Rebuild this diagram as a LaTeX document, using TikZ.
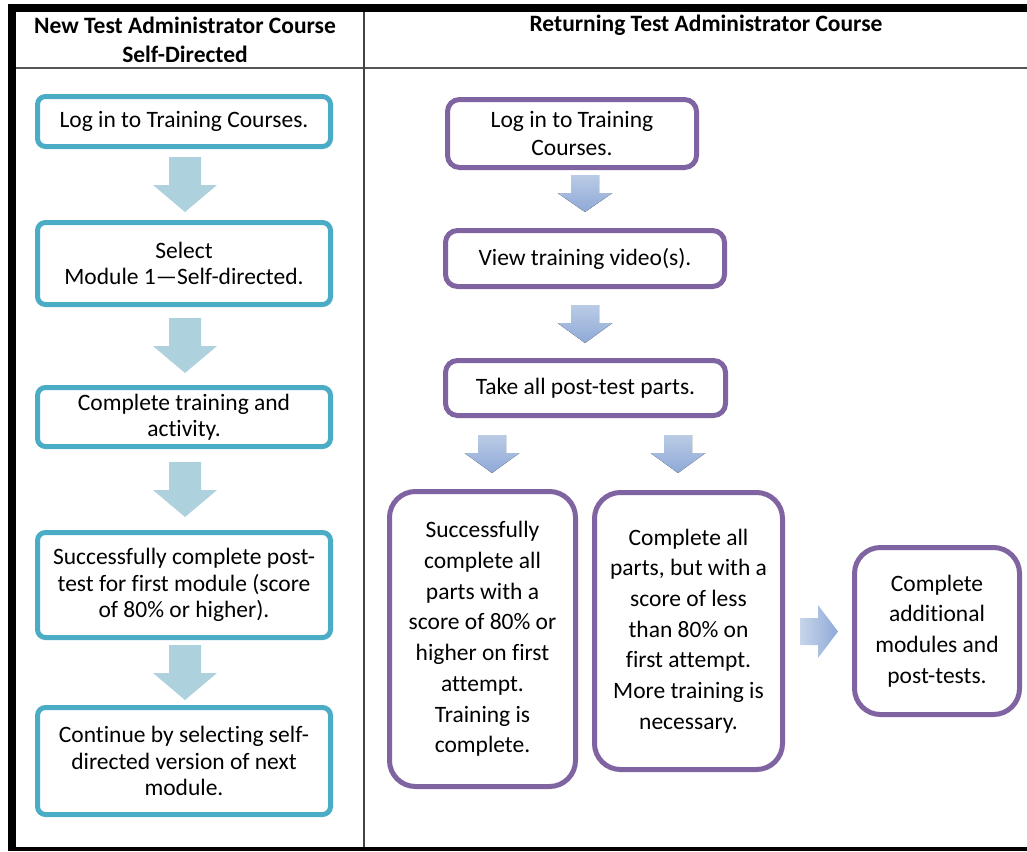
\documentclass[tikz,border=0pt]{standalone}
\usepackage{fontspec}
\setmainfont{Carlito}[Ligatures=NoCommon]
\definecolor{teal1}{HTML}{4BACC6}
\definecolor{purp}{HTML}{8064A2}
\definecolor{larr}{HTML}{ADD1DD}
\definecolor{rtop}{HTML}{BACBE5}
\definecolor{rbot}{HTML}{8EA9D7}
\definecolor{rule}{HTML}{555555}
\newcommand\DArr[7]{\fill[#1] ({#2-#6/2},#3) -- ({#2+#6/2},#3) -- ({#2+#6/2},#5) -- ({#2+#7/2},#5) -- (#2,#4) -- ({#2-#7/2},#5) -- ({#2-#6/2},#5) -- cycle;}
\begin{document}
\begin{tikzpicture}[x=1pt,y=-1pt,
  txt/.style={font=\fontsize{23.5}{26.5}\selectfont, align=center, text=black, inner sep=0pt},
  tbox/.style={txt, draw=teal1, line width=5pt, rounded corners=8pt, minimum width=293pt, fill=white},
  pbox/.style={txt, draw=purp, line width=5pt, rounded corners=12pt, fill=white,
     font=\fontsize{23.5}{28}\selectfont},
  pbig/.style={pbox, rounded corners=26pt, font=\fontsize{23.5}{30.7}\selectfont},
  hdr/.style={font=\fontsize{23.5}{29}\selectfont\bfseries, align=center, inner sep=0pt, text=black},
  lar/.style={fill=larr},
  rar/.style={top color=rtop, bottom color=rbot, draw=none},
]
\useasboundingbox (0,0) rectangle (1027,851);
\fill[white] (0,0) rectangle (1027,851);
% frame
\fill[black] (8,4) rectangle (1027,12);
\fill[black] (8,4) rectangle (16,851);
\fill[black] (8,847) rectangle (1027,851);
\draw[rule, line width=2pt] (16,68) -- (1027,68);
\draw[rule!80!black, line width=1.5pt] (364,12) -- (364,847);
% headers
\node[hdr] (h1) at (185,39.5) {New Test Administrator Course\\Self-Directed};
\node[hdr] (h2) at (706,25) {Returning Test Administrator Course};
% left column
\node[tbox, minimum height=50pt] (l1) at (184,121.5) {Log in to Training Courses.};
\node[tbox, minimum height=82pt] (l2) at (184,263.5) {Select\\Module 1—Self-directed.};
\node[tbox, minimum height=59pt] (l3) at (184,417) {Complete training and\\activity.};
\node[tbox, minimum height=105pt] (l4) at (184,585) {Successfully complete post-\\test for first module (score\\of 80\% or higher).};
\node[tbox, minimum height=107pt] (l5) at (184,761) {Continue by selecting self-\\directed version of next\\module.};
\DArr{lar}{185}{157}{212}{185}{32}{64}
\DArr{lar}{185}{318}{373}{346}{32}{64}
\DArr{lar}{185}{462}{517}{490}{32}{64}
\DArr{lar}{185}{645}{700}{673}{32}{64}
% right column
\node[pbox, minimum width=249pt, minimum height=68pt] (r1) at (572,133.5) {Log in to Training\\Courses.};
\node[pbox, minimum width=279pt, minimum height=56pt] (r2) at (585,258.5) {View training video(s).};
\node[pbox, minimum width=280pt, minimum height=55pt] (r3) at (585.5,388) {Take all post-test parts.};
\node[pbig, minimum width=186pt, minimum height=295pt] (r4) at (482.5,639) {Successfully\\complete all\\parts with a\\score of 80\% or\\higher on first\\attempt.\\Training is\\complete.};
\node[pbig, minimum width=188pt, minimum height=277pt] (r5) at (688.5,631) {Complete all\\parts, but with a\\score of less\\than 80\% on\\first attempt.\\More training is\\necessary.};
\node[pbig, minimum width=165pt, minimum height=167pt] (r6) at (937,631) {Complete\\additional\\modules and\\post-tests.};
\DArr{rar}{585}{175}{212}{193}{28}{55}
\DArr{rar}{585}{305}{343}{323}{28}{55}
\DArr{rar}{492}{435}{473}{453}{28}{55}
\DArr{rar}{678}{435}{473}{453}{28}{55}
\shade[left color=rtop!80!white, right color=rbot] (800,618) -- (818,618) -- (818,605) -- (838,631.5) -- (818,658) -- (818,645) -- (800,645) -- cycle;
\end{tikzpicture}
\end{document}
